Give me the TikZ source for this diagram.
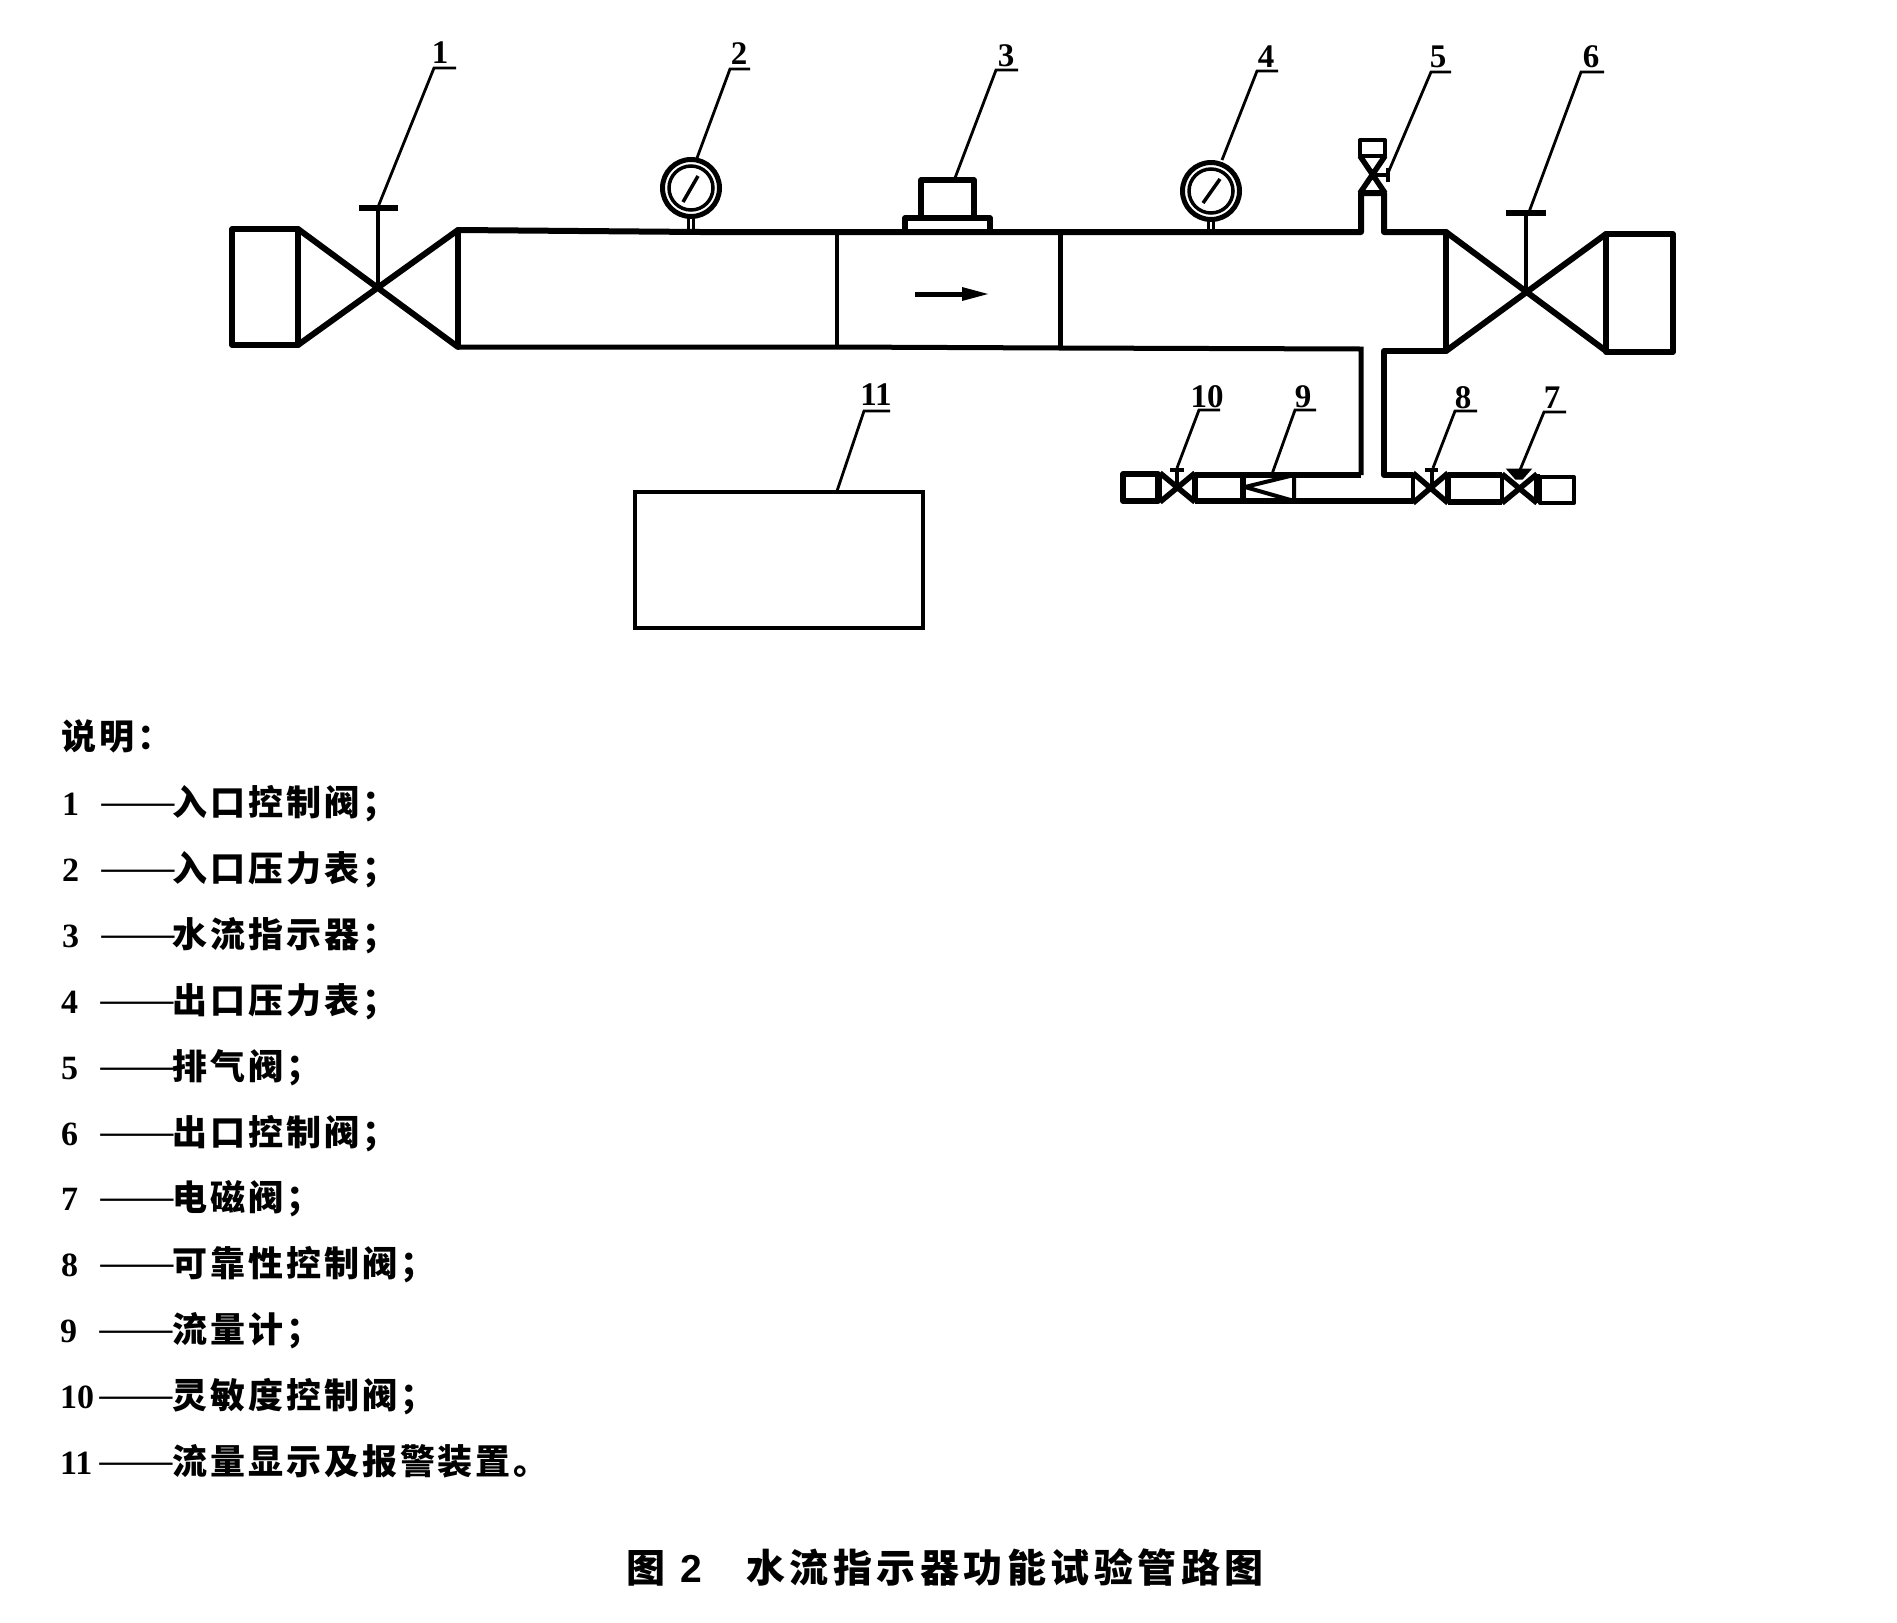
\documentclass[tikz,border=0pt]{standalone}
\usepackage{graphicx}
\usepackage{fontspec}
\newfontfamily\listcjk[LetterSpace=8.5]{Noto Sans CJK SC}
\newfontfamily\dashcjk{Noto Sans CJK SC}
\newfontfamily\titlecjk[LetterSpace=11.5]{Noto Sans CJK SC}
\newfontfamily\numserif{Liberation Serif}
\newfontfamily\numsans{Liberation Sans}
\tikzset{
  pipe/.style={line width=6pt,line join=round,line cap=round},
  heavy/.style={line width=5.5pt,line join=round},
  slim/.style={line width=4pt,line join=round},
  leader/.style={line width=2.8pt},
  gaugeouter/.style={circle,draw,line width=5pt,inner sep=0pt,minimum size=57pt},
  gaugeinner/.style={circle,draw,line width=3.5pt,inner sep=0pt,minimum size=44pt},
  callout/.style={anchor=base,inner sep=0pt,font=\fontsize{33}{36}\selectfont\numserif\bfseries},
  listnum/.style={anchor=base west,inner sep=0pt,font=\fontsize{34}{38}\selectfont\numserif\bfseries},
  listdash/.style={anchor=base west,inner sep=0pt,font=\fontsize{36.5}{40}\selectfont\dashcjk},
  listtext/.style={anchor=base west,inner sep=0pt,font=\fontsize{35}{40}\selectfont\listcjk\bfseries},
  titletext/.style={anchor=base west,inner sep=0pt,font=\fontsize{39}{44}\selectfont\titlecjk\bfseries},
}
\begin{document}
\begin{tikzpicture}[x=1pt,y=-1pt]
\useasboundingbox (0,0) rectangle (1897,1622);
\fill[white] (0,0) rectangle (1897,1622);

% inlet box and valve 1
\draw[heavy] (232,229) rectangle (298,345);
\draw[pipe] (298,229) -- (458,347) (298,345) -- (458,230);
\draw[slim] (298,229) -- (298,345);
\draw[heavy] (458,230) -- (458,347);
\draw[slim] (378,287) -- (378,208);
\draw[line width=6pt] (359,208) -- (398,208);

% main pipe
\draw[pipe] (458,230) -- (700,232) -- (1361,232) -- (1361,193) -- (1384,193) -- (1384,232) -- (1446,232);
\draw[line width=5pt] (458,347) -- (837,347) -- (1060,348) -- (1361,349) -- (1361,475);
\draw[pipe] (1384,475) -- (1384,351) -- (1446,351);
\draw[line width=3.5pt] (837,232) -- (837,347);
\draw[line width=5pt] (1060,232) -- (1060,348);
\draw[heavy] (1446,232) -- (1446,351);

% flow arrow
\draw[line width=5pt] (915,294) -- (968,294);
\fill (962,287) -- (988,294) -- (962,301) -- cycle;

% gauges
\node[gaugeouter] (gauge2) at (691,188) {};
\node[gaugeinner] (dial2) at (691,188) {};
\draw[line width=3.5pt] (683,202) -- (698,176);
\draw[line width=2.2pt] (688.5,217) -- (688.5,232) (693.5,217) -- (693.5,232);
\node[gaugeouter] (gauge4) at (1211,191) {};
\node[gaugeinner] (dial4) at (1211,191) {};
\draw[line width=3.5pt] (1203,203) -- (1220,179);
\draw[line width=2.2pt] (1208.5,220) -- (1208.5,232) (1213.5,220) -- (1213.5,232);

% indicator 3
\draw[heavy] (921,180) rectangle (974,218);
\draw[heavy] (905,232) -- (905,218) -- (990,218) -- (990,232);

% vent valve 5
\draw[slim] (1360,140) rectangle (1385,156);
\draw[heavy] (1360,156) -- (1385,193) (1385,156) -- (1360,193);
\draw[slim] (1360,193) -- (1385,193);
\draw[slim] (1372,175) -- (1388,175);
\draw[slim] (1388,168) -- (1388,182);

% outlet valve 6 and box
\draw[pipe] (1446,232) -- (1606,351) (1446,351) -- (1606,234);
\draw[heavy] (1606,234) -- (1606,351);
\draw[heavy] (1606,234) rectangle (1673,352);
\draw[slim] (1526,292) -- (1526,213);
\draw[line width=6pt] (1506,213) -- (1546,213);

% lower branch
\draw[heavy] (1123,474) rectangle (1158,501);
\draw[heavy] (1160,473) -- (1195,502) (1160,502) -- (1195,473);
\draw[slim] (1160,473) -- (1160,502);
\draw[heavy] (1195,473) -- (1195,502);
\draw[slim] (1177,487) -- (1177,470);
\draw[line width=4.5pt] (1170,470) -- (1184,470);
\draw[heavy] (1195,475) -- (1361,475);
\draw[heavy] (1195,501) -- (1413,501);
\draw[heavy] (1243,475) -- (1243,501);
\draw[slim] (1294,475) -- (1245,487) -- (1294,501) -- cycle;
\draw[heavy] (1384,475) -- (1413,475);
\draw[heavy] (1413,473) -- (1448,503) (1413,503) -- (1448,473);
\draw[slim] (1413,473) -- (1413,503);
\draw[heavy] (1448,473) -- (1448,503);
\draw[slim] (1432,489) -- (1432,470);
\draw[line width=4.5pt] (1425,470) -- (1438,470);
\draw[heavy] (1448,475) -- (1502,475) (1448,502) -- (1502,502);
\draw[heavy] (1502,474) -- (1537,503) (1502,503) -- (1537,474);
\draw[slim] (1502,474) -- (1502,503);
\draw[heavy] (1537,474) -- (1537,503);
\draw[line width=3pt,fill=black] (1509,470) -- (1529,470) -- (1522,478) -- (1516,478) -- cycle;
\draw[slim] (1540,477) rectangle (1574,503);

% display box
\node[draw,line width=4.5pt,inner sep=0pt,minimum width=288pt,minimum height=136pt] (display) at (779,560) {};

% callouts
\node[callout] (n1) at (440,63) {1};
\node[callout] (n2) at (739,64) {2};
\node[callout] (n3) at (1006,66) {3};
\node[callout] (n4) at (1266,67) {4};
\node[callout] (n5) at (1438,67) {5};
\node[callout] (n6) at (1591,67) {6};
\node[callout] (n11) at (876,405) {11};
\node[callout] (n10) at (1207,407) {10};
\node[callout] (n9) at (1303,407) {9};
\node[callout] (n8) at (1463,408) {8};
\node[callout] (n7) at (1552,408) {7};
\draw[leader] (378,207) -- (434,68) -- (456,68);
\draw[leader] (697,158) -- (730,69) -- (750,69);
\draw[leader] (955,178) -- (996,70) -- (1018,70);
\draw[leader] (1222,160) -- (1257,71) -- (1278,71);
\draw[leader] (1388,173) -- (1431,72) -- (1451,72);
\draw[leader] (1529,212) -- (1581,72) -- (1604,72);
\draw[leader] (837,491) -- (864,411) -- (890,411);
\draw[leader] (1177,468) -- (1199,410) -- (1220,410);
\draw[leader] (1272,474) -- (1295,410) -- (1316,410);
\draw[leader] (1433,468) -- (1455,411) -- (1477,411);
\draw[leader] (1520,470) -- (1544,412) -- (1566,412);

% legend
\node[listtext] (head) at (61,749) {说明：};
\foreach \row/\num/\txt/\numx/\dashx in {
  1/1/入口控制阀；/62/99,
  2/2/入口压力表；/62/99,
  3/3/水流指示器；/62/99,
  4/4/出口压力表；/61/98,
  5/5/排气阀；/61/98,
  6/6/出口控制阀；/61/98,
  7/7/电磁阀；/61/98,
  8/8/可靠性控制阀；/61/98,
  9/9/流量计；/60/97,
  10/10/灵敏度控制阀；/60/97,
  11/11/流量显示及报警装置。/60/97}
{
  \pgfmathsetmacro{\basey}{815.5+65.9*(\row-1)}
  \node[listnum] (num\row) at (\numx,\basey) {\num};
  \node[listdash] (dash\row) at (\dashx,\basey) {\scalebox{1.27}[1]{——}};
  \node[listtext] (item\row) at (172,\basey) {\txt};
}

% caption
\node[titletext] (figa) at (626,1582) {图};
\node[anchor=base west,inner sep=0pt,font=\fontsize{39}{44}\selectfont\numsans\bfseries] (fign) at (680,1582) {2};
\node[titletext] (figb) at (746,1582) {水流指示器功能试验管路图};
\end{tikzpicture}
\end{document}
